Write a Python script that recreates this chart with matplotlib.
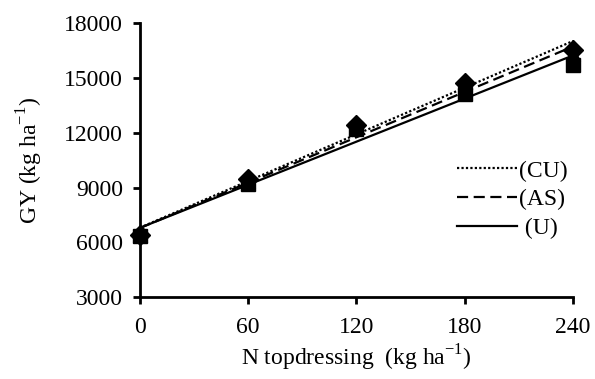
import numpy as np
import matplotlib
matplotlib.use("Agg")
import matplotlib.pyplot as plt

plt.rcParams['font.family'] = ['Liberation Serif', 'DejaVu Serif']
plt.rcParams['mathtext.fontset'] = 'custom'
plt.rcParams['mathtext.rm'] = 'Liberation Serif'

n_rate = [0, 60, 120, 180, 240]
gy_cu = [6400, 9450, 12450, 14700, 16550]
gy_as = [6400, 9350, 12300, 14400, 16300]
gy_u = [6350, 9200, 12200, 14100, 15700]

series = [
    ("(CU)", gy_cu, "D", (0, (1, 1))),
    ("(AS)", gy_as, "^", (0, (5, 2.5))),
    (" (U)", gy_u, "s", "-"),
]

fig = plt.figure(figsize=(5.95, 3.79), dpi=100)
ax = fig.add_axes([0.235, 0.216, 0.728, 0.723])

xs = np.array(n_rate)
handles = []
for label, ys, mk, ls in series:
    ax.plot(xs, ys, linestyle="none", marker=mk, markersize=10, color="black", clip_on=False, zorder=3)
    k, b = np.polyfit(xs, ys, 1)
    fit_x = np.array([0, 240])
    line, = ax.plot(fit_x, k * fit_x + b, color="black", linestyle=ls, linewidth=1.6, label=label)
    handles.append(line)

ax.set_xlim(0, 240)
ax.set_ylim(3000, 18000)
ax.set_xticks(n_rate)
ax.set_yticks(range(3000, 18001, 3000))
for s in ["top", "right"]:
    ax.spines[s].set_visible(False)
for s in ["left", "bottom"]:
    ax.spines[s].set_linewidth(2)
ax.tick_params(width=2, length=5, labelsize=17, direction="out", pad=7)
ax.tick_params(axis="x", pad=9)

ax.set_xlabel("N topdressing  (kg ha$^{-1}$)", fontsize=17, labelpad=4)
ax.set_ylabel("GY (kg ha$^{-1}$)", fontsize=17, labelpad=14)

ax.legend(handles=handles, loc="upper left", bbox_to_anchor=(0.732, 0.50), frameon=False,
          borderpad=0, borderaxespad=0, fontsize=17, handlelength=2.55,
          handletextpad=0.1, labelspacing=0.3)

fig.savefig("out.png", dpi=100)
